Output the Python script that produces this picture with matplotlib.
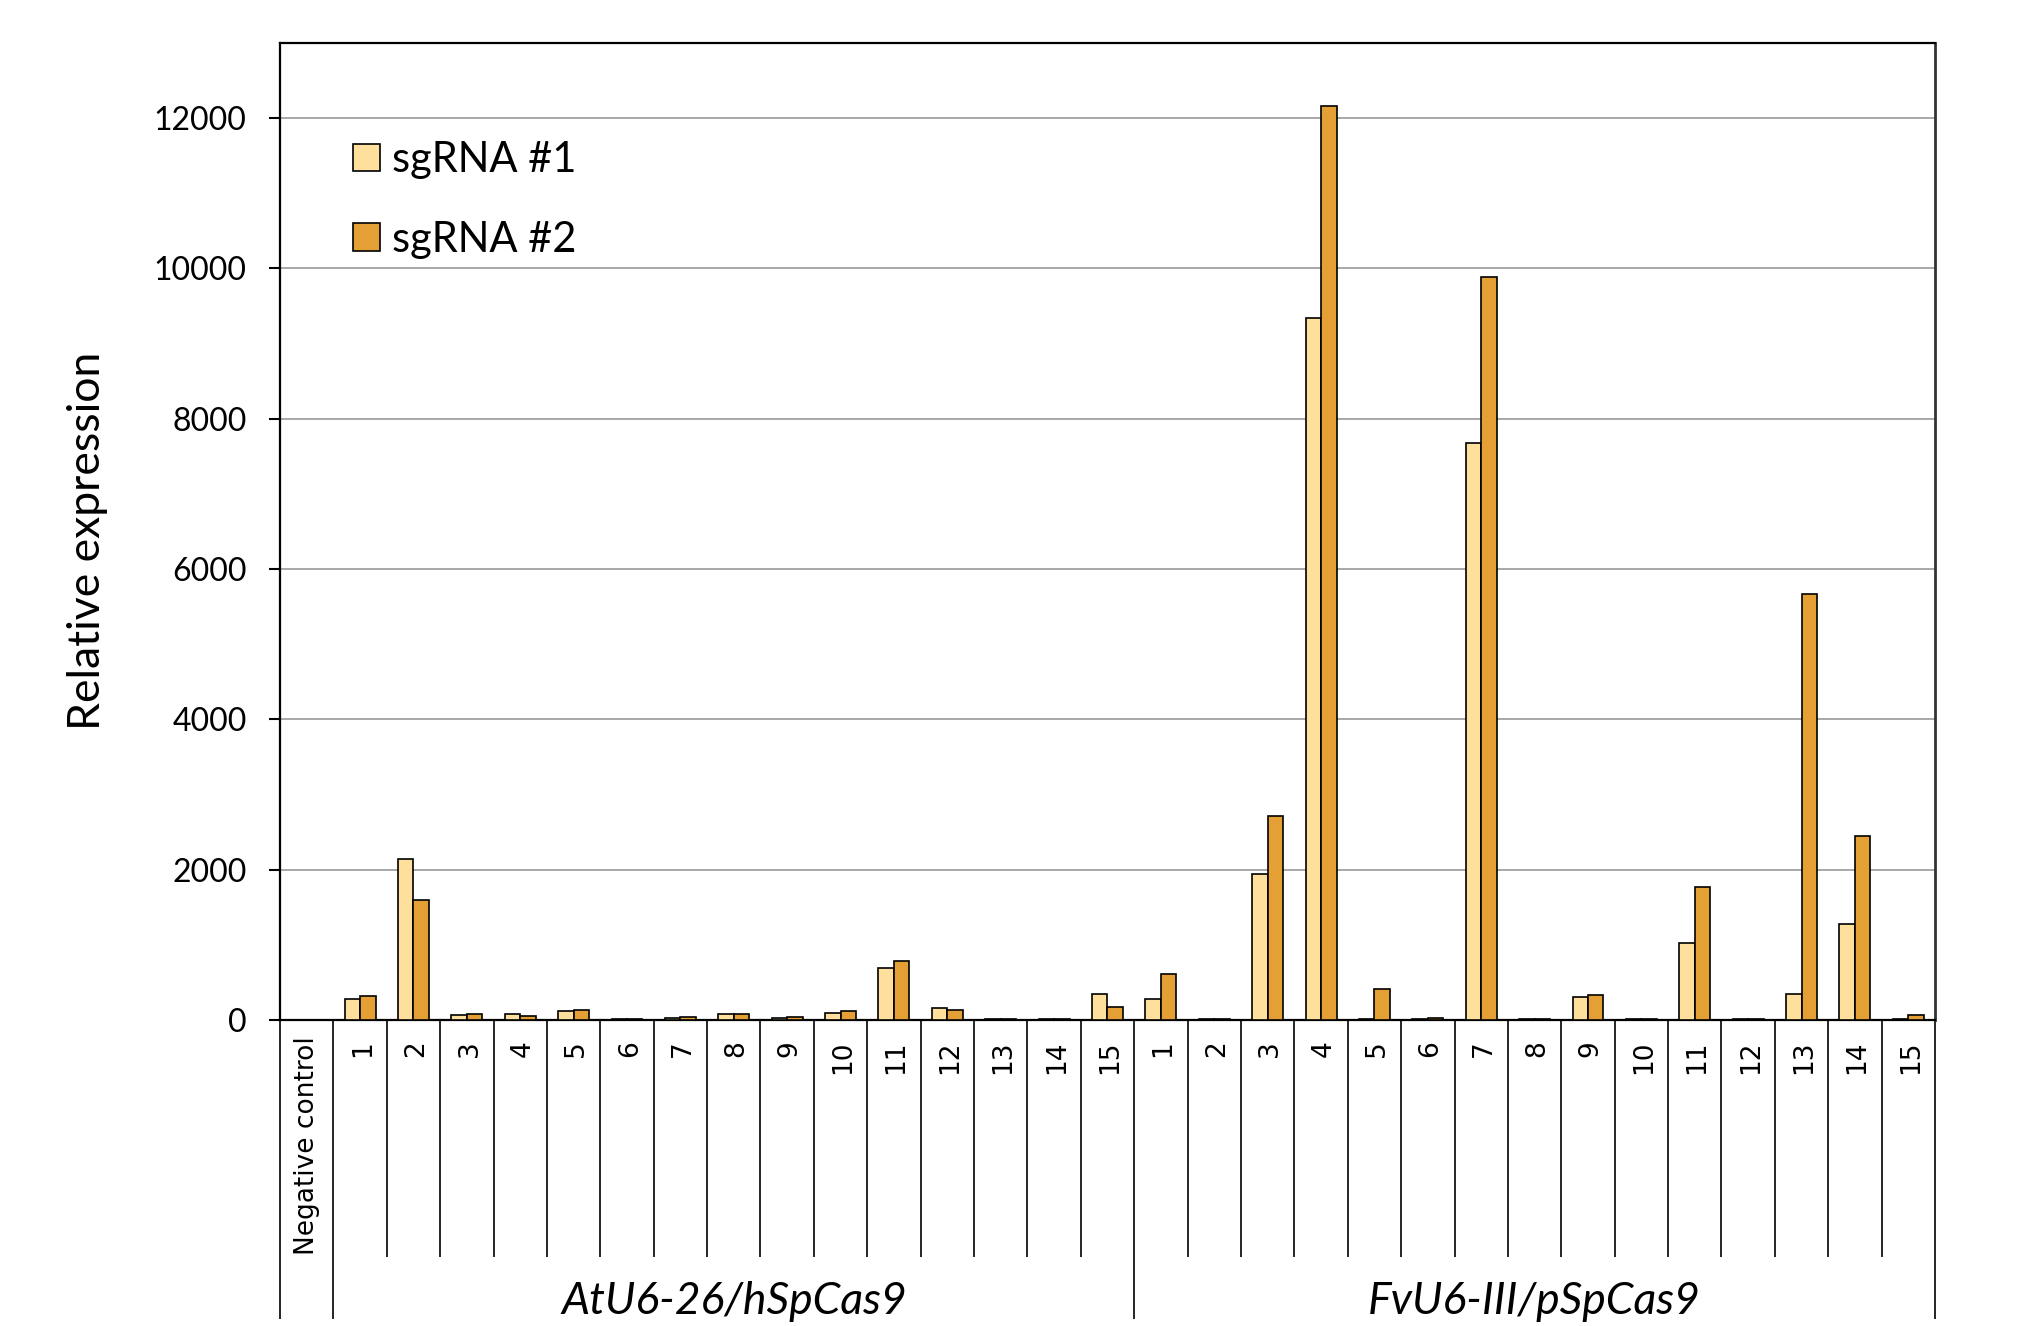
import matplotlib
matplotlib.use("Agg")
import matplotlib.pyplot as plt
from matplotlib.transforms import blended_transform_factory
import numpy as np

# ---- data ----
categories = ["Negative control"] + [str(i) for i in range(1, 16)] + [str(i) for i in range(1, 16)]
groups = ["AtU6-26/hSpCas9", "FvU6-III/pSpCas9"]
series_names = ["sgRNA #1", "sgRNA #2"]
neg_sg1 = [0]
neg_sg2 = [0]
at_sg1 = [284, 2138, 62, 76, 116, 12, 22, 84, 22, 93, 689, 164, 10, 10, 351]
at_sg2 = [316, 1591, 76, 58, 129, 12, 36, 84, 36, 116, 791, 138, 10, 10, 178]
fv_sg1 = [276, 10, 1940, 9346, 18, 15, 7676, 10, 311, 10, 1027, 10, 351, 1280, 15]
fv_sg2 = [618, 10, 2720, 12168, 418, 28, 9880, 10, 329, 10, 1766, 10, 5675, 2444, 71]
yticks = [0, 2000, 4000, 6000, 8000, 10000, 12000]

sg1 = neg_sg1 + at_sg1 + fv_sg1
sg2 = neg_sg2 + at_sg2 + fv_sg2
n = len(categories)

c1 = "#FEDF9C"
c2 = "#E4A034"

fig = plt.figure(figsize=(20.30, 13.26), dpi=100)
ax = fig.add_axes([280/2030, 1 - 1020/1326, (1935-280)/2030, (1020-43)/1326])

x = np.arange(n) + 0.5
w = 0.29
b1 = ax.bar(x - w/2, sg1, width=w, color=c1, edgecolor="black", linewidth=1.2, label=series_names[0], zorder=3)
b2 = ax.bar(x + w/2, sg2, width=w, color=c2, edgecolor="black", linewidth=1.2, label=series_names[1], zorder=3)

ax.set_xlim(0, n)
ax.set_ylim(0, 13000)
ax.set_yticks(yticks)
ax.set_yticklabels([str(v) for v in yticks], fontfamily="Lato", fontsize=23)
ax.tick_params(axis="y", length=8, width=1.5, pad=16, direction="out")
ax.set_xticks([])
ax.yaxis.grid(True, color="#9a9a9a", linewidth=1.2, zorder=0)
ax.set_axisbelow(True)
for s in ["left", "bottom", "top"]:
    ax.spines[s].set_color("black")
    ax.spines[s].set_linewidth(1.6)
ax.spines["right"].set_color("#333333")
ax.spines["right"].set_linewidth(2.0)

# category axis below
trans = blended_transform_factory(ax.transData, ax.transAxes)
short_y = -(1257 - 1020) / 977
long_y = -(1319 - 1020) / 977
long_idx = {0, 1, 16, n}
for k in range(n + 1):
    yb = long_y if k in long_idx else short_y
    ax.plot([k, k], [0, yb], transform=trans, color="black", linewidth=1.2, clip_on=False, solid_capstyle="butt")

num_top = -(1040 - 1020) / 977
for i, lab in enumerate(categories):
    if i == 0:
        ax.text(x[i], -(1036 - 1020) / 977, lab, transform=trans, rotation=90, ha="center", va="top",
                fontsize=19, fontfamily="DejaVu Sans")
    else:
        ax.text(x[i] + 0.05, num_top, lab, transform=trans, rotation=90, ha="center", va="top",
                fontsize=19, fontfamily="DejaVu Sans")

grp_y = -(1302 - 1020) / 977
ax.text(8.5, grp_y, groups[0], transform=trans, ha="center", va="center", fontsize=32,
        fontfamily="Lato", fontstyle="italic")
ax.text(23.5, grp_y, groups[1], transform=trans, ha="center", va="center", fontsize=32,
        fontfamily="Lato", fontstyle="italic")

fig.text(88/2030, 1 - 541/1326, "Relative expression", rotation=90, ha="center", va="center",
         fontsize=32, fontfamily="Lato")

leg = ax.legend(handles=[b1, b2], loc="upper left", bbox_to_anchor=((353-280)/1655, (1020-141)/977),
                frameon=False, prop={"family": "Lato", "size": 30}, handlelength=0.64, handleheight=0.64,
                handletextpad=0.3, labelspacing=1.0, borderpad=0, borderaxespad=0)

fig.savefig("out.png", dpi=100, facecolor="white")
